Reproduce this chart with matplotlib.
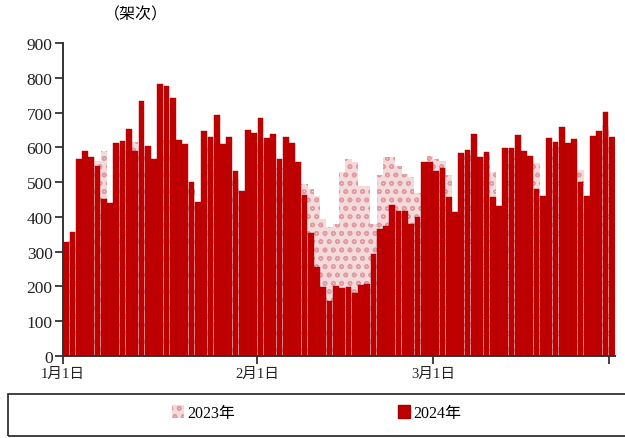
import matplotlib
matplotlib.use('Agg')
import matplotlib.pyplot as plt
from matplotlib.patches import Rectangle, Patch
import numpy as np

plt.rcParams['font.family'] = ['Liberation Serif', 'Noto Sans CJK SC']
plt.rcParams['hatch.linewidth'] = 1.1

# daily flights (架次), days from Jan 1
flights_2023 = [300, 330, 420, 540, 550, 560, 590, 430, 580, 590,
                610, 615, 600, 590, 540, 600, 620, 610, 590, 580,
                480, 430, 600, 610, 620, 590, 600, 510, 460, 590,
                600, 610, 590, 600, 540, 590, 590, 540, 494, 480,
                460, 395, 370, 380, 529, 566, 557, 489, 489, 380,
                520, 572, 572, 546, 523, 514, 470, 540, 575, 566,
                560, 520, 400, 570, 580, 600, 560, 580, 530, 420,
                590, 590, 600, 580, 570, 555, 450, 610, 600, 620,
                600, 610, 535, 450, 620, 630, 660, 610]
flights_2024 = [328, 356, 566, 589, 572, 546, 451, 440, 612, 618,
                652, 589, 733, 604, 566, 782, 777, 742, 621, 610,
                500, 442, 647, 630, 693, 610, 630, 532, 474, 650,
                641, 684, 627, 638, 566, 630, 612, 558, 463, 354,
                256, 198, 158, 201, 195, 198, 182, 204, 207, 293,
                365, 374, 434, 417, 417, 379, 399, 558, 558, 532,
                540, 457, 414, 584, 592, 638, 572, 586, 457, 431,
                598, 598, 636, 589, 575, 480, 460, 627, 615, 658,
                612, 624, 500, 460, 633, 648, 701, 630]
tick_days = [0, 31, 59, 87]
tick_labels = ['1月1日', '2月1日', '3月1日', '']
series_names = ['2023年', '2024年']
unit_label = '（架次）'

PINK_FACE = '#F4DADB'
PINK_HATCH = '#DE9DA2'
RED = '#C00000'

fig = plt.figure(figsize=(6.25, 4.39), dpi=100)
ax = fig.add_axes([63/625, 82/439, 552/625, 313/439])

x = np.arange(len(flights_2024)) + 0.5
ax.bar(x, flights_2023, width=1.0, facecolor=PINK_FACE, edgecolor=PINK_HATCH,
       hatch='oo', linewidth=0)
ax.bar(x, flights_2024, width=0.9, color=RED, edgecolor='#A80000',
       linewidth=0.3)

ax.set_xlim(0, 88)
ax.set_ylim(0, 900)
ax.set_yticks(range(0, 901, 100))
ax.set_xticks(tick_days)
ax.set_xticklabels(tick_labels, fontsize=10.5)
for lbl in ax.get_yticklabels():
    lbl.set_fontsize(12.5)
ax.tick_params(axis='y', direction='out', length=6, width=1.2, pad=1.5, colors='#222222')
ax.tick_params(axis='x', direction='out', length=6, width=1.2, pad=2, colors='#222222')
for s in ['top', 'right']:
    ax.spines[s].set_visible(False)
for s in ['left', 'bottom']:
    ax.spines[s].set_linewidth(1.4)
    ax.spines[s].set_color('#333333')

fig.text(104/625, 1 - 15/439, unit_label, fontsize=11.5, ha='left', va='center')

# legend box
fig.add_artist(Rectangle((8/625, 2/439), 640/625, 42/439, transform=fig.transFigure,
                         fill=False, edgecolor='#333333', linewidth=1.3, clip_on=False))
handles = [Patch(facecolor=PINK_FACE, edgecolor=PINK_HATCH, hatch='oo', linewidth=0),
           Patch(facecolor=RED, edgecolor='#A00000', linewidth=1)]
fig.legend(handles, series_names, loc='center', bbox_to_anchor=(317/625, 25/439),
           ncol=2, frameon=False, columnspacing=10.2, handlelength=0.75,
           handleheight=0.9, handletextpad=0.2, fontsize=11.5)

fig.savefig('out.png', dpi=100)
